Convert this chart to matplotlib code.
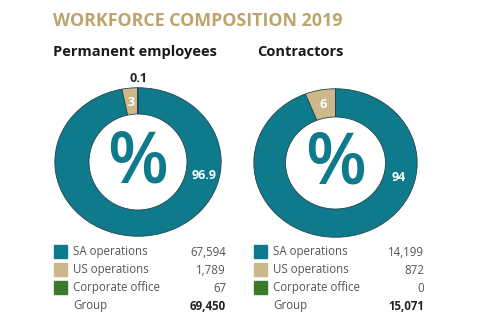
import numpy as np
import matplotlib
matplotlib.use("Agg")
import matplotlib.pyplot as plt
from matplotlib.patches import Ellipse

plt.rcParams['font.family'] = ['Open Sans', 'DejaVu Sans']

# shares in percent, SA / US / corporate office
categories = ["SA operations", "US operations", "Corporate office"]
perm_pct = [96.9, 3, 0.1]
contr_pct = [94, 6, 0]
perm_counts = ["67,594", "1,789", "67"]
contr_counts = ["14,199", "872", "0"]
perm_total = "69,450"
contr_total = "15,071"

colors = ["#0e7a8b", "#cdb88c", "#3b7a2a"]
teal = "#0e7a8b"
gold = "#bda46c"
W, H = 488, 334

fig = plt.figure(figsize=(W / 100, H / 100), dpi=100)
fig.patch.set_facecolor("white")

# overlay axes in pixel units for all the text
ov = fig.add_axes([0, 0, 1, 1])
ov.set_xlim(0, W)
ov.set_ylim(H, 0)
ov.axis("off")


def donut(x0, y0, w, h, pct, labels, hole_w, hole_h):
    ax = fig.add_axes([x0 / W, 1 - (y0 + h) / H, w / W, h / H])
    wedges, _ = ax.pie(pct, colors=colors, startangle=90, counterclock=False,
                       radius=1, wedgeprops=dict(edgecolor="#24434a", linewidth=0.6))
    ax.set_aspect("auto")
    ax.set_xlim(-1.01, 1.01)
    ax.set_ylim(-1.01, 1.01)
    # white hole, sized in pixels so it stays round-ish
    ax.add_patch(Ellipse((0, 0), 2 * hole_w / w * 2.02, 2 * hole_h / h * 2.02,
                         facecolor="white", edgecolor="#24434a", linewidth=0.6, zorder=3))
    ax.text(0, -0.04, "%", ha="center", va="center", color=teal,
            fontsize=51, fontweight="semibold", zorder=4)
    for i, (txt, ang, r, col) in enumerate(labels):
        if txt is None:
            continue
        if ang is None:
            wd = wedges[i]
            ang = (wd.theta1 + wd.theta2) / 2
        a = np.deg2rad(ang)
        ax.text(r * np.cos(a), r * np.sin(a), txt, ha="center", va="center",
                color=col, fontsize=9, fontweight="bold", zorder=4)
    return ax


donut(54, 87, 168, 150, perm_pct,
      [("96.9", -13, 0.82, "white"), ("3", None, 0.8, "white"), ("0.1", 90, 1.13, "#222222")],
      49, 48)
donut(253, 88, 165, 150, contr_pct,
      [("94", -14, 0.8, "white"), ("6", None, 0.8, "white"), (None, None, 0, None)],
      50, 46)

ov.text(53, 21, "WORKFORCE COMPOSITION 2019", color=gold, fontsize=12.8,
        fontweight="bold", ha="left", va="center")
ov.text(53, 52, "Permanent employees", color="#1a1a1a", fontsize=10.5,
        fontweight="bold", ha="left", va="center")
ov.text(257, 52, "Contractors", color="#1a1a1a", fontsize=10.5,
        fontweight="bold", ha="left", va="center")


def legend(x_sq, x_txt, x_num, counts, total):
    rows = [252, 270, 288]
    for y, name, col, cnt in zip(rows, categories, colors, counts):
        ov.add_patch(plt.Rectangle((x_sq, y - 7), 13, 13, color=col))
        ov.text(x_txt, y, name, color="#555555", fontsize=8.3, ha="left", va="center")
        ov.text(x_num, y, cnt, color="#555555", fontsize=8.3, ha="right", va="center")
    ov.text(x_txt, 306, "Group", color="#555555", fontsize=8.3, ha="left", va="center")
    ov.text(x_num, 306, total, color="#222222", fontsize=8.3, fontweight="bold",
            ha="right", va="center")


legend(54, 73, 226, perm_counts, perm_total)
legend(254, 273, 424, contr_counts, contr_total)

fig.savefig("out.png", dpi=100)
